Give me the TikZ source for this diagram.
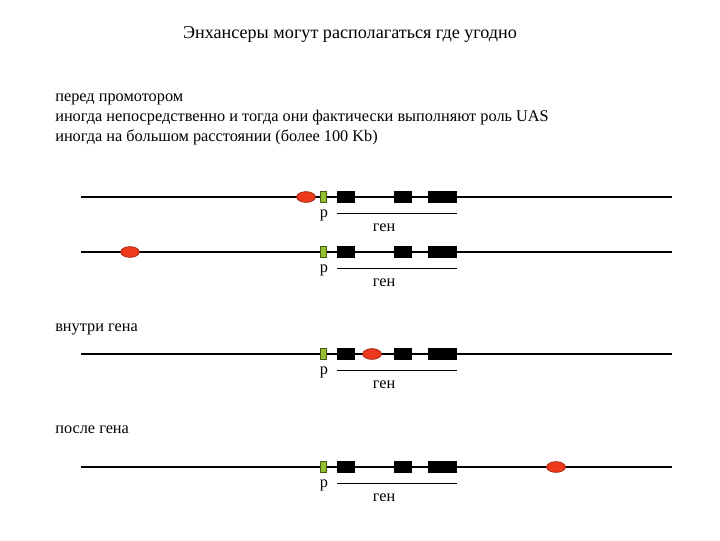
\documentclass[tikz,border=0pt]{standalone}
\usepackage{fontspec}
\setmainfont{Liberation Serif}
\usetikzlibrary{shapes.geometric}
\definecolor{enhRed}{RGB}{238,58,28}
\definecolor{enhEdge}{RGB}{140,25,10}
\definecolor{promGreen}{RGB}{150,192,50}
\definecolor{promEdge}{RGB}{70,90,20}
\newcommand{\geneRow}[2]{%
  \coordinate (#1L) at (81,#2);
  \coordinate (#1R) at (672,#2);
  \draw[dna] (#1L) -- (#1R);
  \node[prom] (#1P) at (323.5,#2) {};
  \node[exon, minimum width=0.45cm] (#1X1) at (346,#2) {};
  \node[exon, minimum width=0.45cm] (#1X2) at (403,#2) {};
  \node[exon, minimum width=0.725cm] (#1X3) at (442.5,#2) {};
  \node[lbl] (#1Pl) at (324,#2+18.5) {р};
  \coordinate (#1Ga) at (337,#2+16.5);
  \coordinate (#1Gb) at (457,#2+16.5);
  \draw[gline] (#1Ga) -- (#1Gb);
  \node[lbl] (#1Gl) at (384,#2+30.5) {ген};
}

\begin{document}
\begin{tikzpicture}[x=0.025cm, y=-0.025cm, font=\fontsize{11.6}{14}\selectfont]
  \tikzset{dna/.style={line width=0.9pt},
           gline/.style={line width=0.7pt},
           exon/.style={fill=black, minimum height=0.3cm, inner sep=0pt},
           prom/.style={draw=promEdge, fill=promGreen, line width=0.4pt,
                        minimum width=0.15cm, minimum height=0.28cm, inner sep=0pt},
           enh/.style={ellipse, draw=enhEdge, fill=enhRed, line width=0.4pt,
                       minimum width=0.47cm, minimum height=0.27cm, inner sep=0pt},
           txt/.style={anchor=west, inner sep=0pt},
           lbl/.style={inner sep=0pt}}
  \useasboundingbox (0,0) rectangle (720,540);
  \node[lbl, font=\fontsize{12.9}{15}\selectfont] (title) at (350,34) {Энхансеры могут располагаться где угодно};
  \node[txt] (before) at (55,99) {перед промотором};
  \node[txt] (near) at (55,118) {иногда непосредственно и тогда они фактически выполняют роль UAS};
  \node[txt] (far) at (55,137) {иногда на большом расстоянии (более 100 Kb)};
  % перед промотором
  \geneRow{a}{197}
  \node[enh] (enhA) at (306,197) {};
  \geneRow{b}{252}
  \node[enh] (enhB) at (130,252) {};
  % внутри гена
  \node[txt] (inside) at (55,329) {внутри гена};
  \geneRow{c}{354}
  \node[enh] (enhC) at (372,354) {};
  % после гена
  \node[txt] (after) at (55,430) {после гена};
  \geneRow{d}{467}
  \node[enh] (enhD) at (556,467) {};
\end{tikzpicture}
\end{document}
